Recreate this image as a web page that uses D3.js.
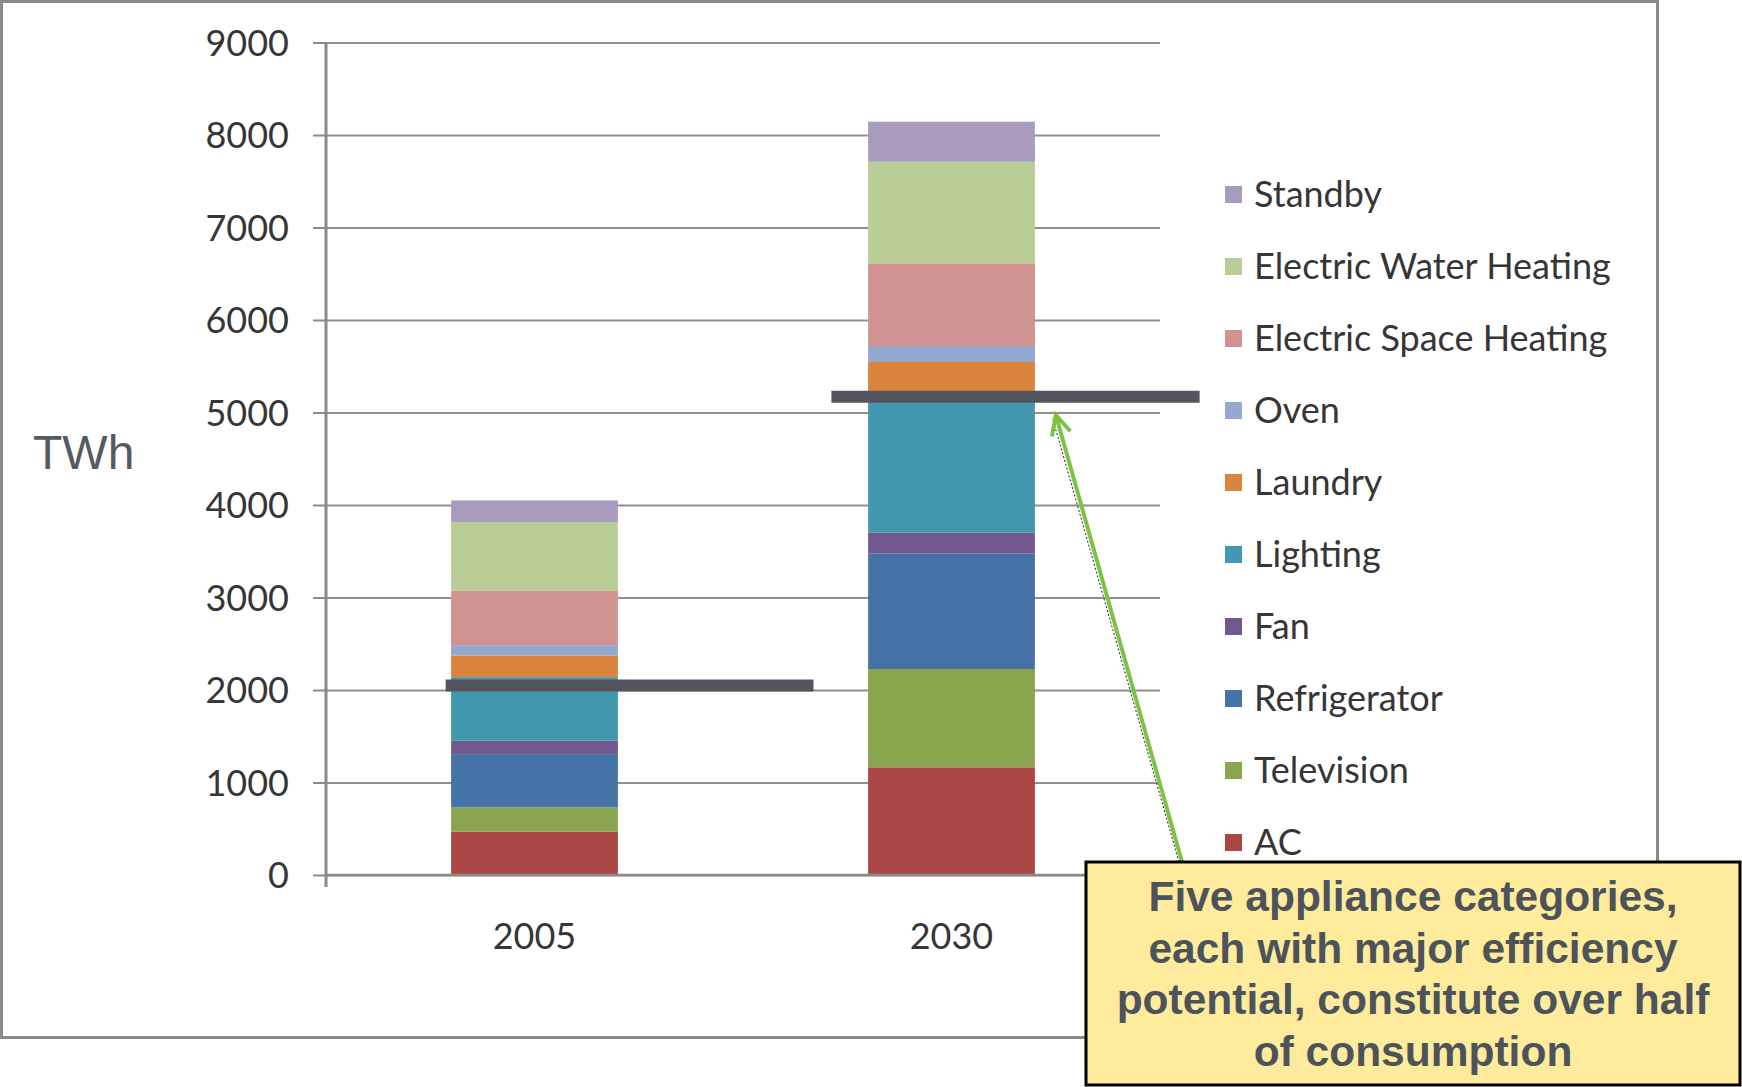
<!DOCTYPE html>
<html>
<head>
<meta charset="utf-8">
<script src="https://cdn.jsdelivr.net/npm/d3@7/dist/d3.min.js"></script>
<style>
  html, body { margin: 0; padding: 0; background: #ffffff; }
  svg { display: block; }
</style>
</head>
<body>
<svg id="chart" width="1742" height="1087"></svg>
<script>
// Residential electricity consumption by appliance, TWh
const categories = ["2005", "2030"];
const seriesNames = ["AC", "Television", "Refrigerator", "Fan", "Lighting",
  "Laundry", "Oven", "Electric Space Heating", "Electric Water Heating", "Standby"];
const seriesColors = ["#AA4643", "#89A54E", "#4572A7", "#71588F", "#4198AF",
  "#DB843D", "#93A9CF", "#D19392", "#B9CD96", "#A99BBD"];

const acValues           = [470, 1164];
const televisionValues   = [260, 1063];
const refrigeratorValues = [577, 1247];
const fanValues          = [144, 227];
const lightingValues     = [688, 1500];
const laundryValues      = [234, 345];
const ovenValues         = [112, 173];
const spaceHeatingValues = [587, 894];
const waterHeatingValues = [742, 1098];
const standbyValues      = [235, 433];

const yTickValues = [0, 1000, 2000, 3000, 4000, 5000, 6000, 7000, 8000, 9000];

// level of the five efficiency-potential categories, one marker per year
const markerLevels = [2050, 5170];

const calloutLines = [
  "Five appliance categories,",
  "each with major efficiency",
  "potential, constitute over half",
  "of consumption"
];

// ---- table for the stack layout ----
const valueColumns = [acValues, televisionValues, refrigeratorValues, fanValues,
  lightingValues, laundryValues, ovenValues, spaceHeatingValues, waterHeatingValues, standbyValues];
const table = categories.map((c, i) => {
  const row = { year: c };
  seriesNames.forEach((s, k) => { row[s] = valueColumns[k][i]; });
  return row;
});
const stacked = d3.stack().keys(seriesNames)(table);
const color = d3.scaleOrdinal().domain(seriesNames).range(seriesColors);

const svg = d3.select("#chart");
const plot = { left: 326, right: 1160, top: 42.5, bottom: 875 };

const x = d3.scaleBand().domain(categories).range([plot.left, plot.right]).padding(0);
const y = d3.scaleLinear().domain([0, 9000]).range([plot.bottom, plot.top]);
const barW = x.step() * 0.4;
const barX = c => x(c) + (x.bandwidth() - barW) / 2;

const labelFont = "Lato, 'Open Sans', sans-serif";
const labelColor = "#363636";

// outer frame
svg.append("rect")
  .attr("x", 1.5).attr("y", 1.5).attr("width", 1656).attr("height", 1036)
  .attr("fill", "#ffffff").attr("stroke", "#8a8a8a").attr("stroke-width", 3);

// gridlines
const grid = svg.append("g")
  .attr("transform", `translate(${plot.left},0)`)
  .call(d3.axisLeft(y).tickValues(yTickValues).tickSize(-(plot.right - plot.left)).tickFormat(""));
grid.select(".domain").remove();
grid.selectAll(".tick line").attr("stroke", "#8f8f8f").attr("stroke-width", 2);

// y axis ticks and labels
const yAxis = svg.append("g")
  .attr("transform", `translate(${plot.left},0)`)
  .call(d3.axisLeft(y).tickValues(yTickValues).tickSize(13).tickPadding(24).tickFormat(d3.format("d")));
yAxis.select(".domain").remove();
yAxis.selectAll(".tick line").attr("stroke", "#8a8a8a").attr("stroke-width", 2);
yAxis.selectAll(".tick text")
  .attr("font-family", labelFont)
  .attr("font-size", 36).attr("fill", labelColor).attr("dy", "0.36em");

// stacked bars
svg.append("g").selectAll("g")
  .data(stacked)
  .join("g")
  .attr("fill", d => color(d.key))
  .selectAll("rect")
  .data(d => d)
  .join("rect")
  .attr("x", d => barX(d.data.year))
  .attr("width", barW)
  .attr("y", d => y(d[1]))
  .attr("height", d => y(d[0]) - y(d[1]));

// axis lines
svg.append("line")
  .attr("x1", plot.left).attr("x2", plot.right)
  .attr("y1", y(0)).attr("y2", y(0))
  .attr("stroke", "#8a8a8a").attr("stroke-width", 2.5);
svg.append("line")
  .attr("x1", plot.left).attr("x2", plot.left)
  .attr("y1", y(9000)).attr("y2", y(0) + 12)
  .attr("stroke", "#8a8a8a").attr("stroke-width", 3);

// category labels
svg.append("g").selectAll("text")
  .data(categories)
  .join("text")
  .attr("x", d => x(d) + x.bandwidth() / 2)
  .attr("y", 949)
  .attr("text-anchor", "middle")
  .attr("font-family", labelFont)
  .attr("font-size", 36).attr("fill", labelColor)
  .text(d => d);

// y axis title
svg.append("text")
  .attr("x", 33).attr("y", 469)
  .attr("font-family", "'Liberation Sans', Arial, sans-serif")
  .attr("font-size", 48).attr("fill", "#545a61")
  .text("TWh");

// legend, top entry is the last series
const legendItems = seriesNames.slice().reverse();
const legend = svg.append("g").selectAll("g")
  .data(legendItems)
  .join("g")
  .attr("transform", (d, i) => `translate(1225,${194.5 + i * 72})`);
legend.append("rect")
  .attr("x", 0).attr("y", -8.5).attr("width", 17).attr("height", 17)
  .attr("fill", d => color(d));
legend.append("text")
  .attr("x", 29).attr("y", 0).attr("dy", "0.36em")
  .attr("font-family", labelFont)
  .attr("font-size", 36).attr("fill", labelColor)
  .text(d => d);

// horizontal markers across each bar
const markerSpan = [[-0.213, 0.669], [-0.288, 0.595]];
svg.append("g").selectAll("line")
  .data(categories)
  .join("line")
  .attr("x1", (d, i) => x(d) + x.bandwidth() / 2 + markerSpan[i][0] * x.step())
  .attr("x2", (d, i) => x(d) + x.bandwidth() / 2 + markerSpan[i][1] * x.step())
  .attr("y1", (d, i) => y(markerLevels[i]))
  .attr("y2", (d, i) => y(markerLevels[i]))
  .attr("stroke", "#53575d").attr("stroke-width", 12);

// callout box
const box = { x: 1086, y: 862, w: 654, h: 223 };
const tip = [x("2030") + 0.75 * x.step(), y(4975)];
const base = [1182, box.y];

// arrow with a dotted outline on its left
const arrow = svg.append("g");
arrow.append("line")
  .attr("x1", base[0] - 3).attr("y1", base[1])
  .attr("x2", tip[0] - 3).attr("y2", tip[1] + 4)
  .attr("stroke", "#222").attr("stroke-width", 1)
  .attr("stroke-dasharray", "2,2");
arrow.append("line")
  .attr("x1", base[0]).attr("y1", base[1])
  .attr("x2", tip[0]).attr("y2", tip[1])
  .attr("stroke", "#7DC243").attr("stroke-width", 4);
const ang = Math.atan2(base[1] - tip[1], base[0] - tip[0]);
const headLen = 22, headSpread = 0.45;
const barb = s => [tip[0] + headLen * Math.cos(ang + s * headSpread), tip[1] + headLen * Math.sin(ang + s * headSpread)];
arrow.append("path")
  .attr("d", d3.line()([barb(1), tip, barb(-1)]))
  .attr("fill", "none").attr("stroke", "#7DC243").attr("stroke-width", 4)
  .attr("stroke-linejoin", "miter");

svg.append("rect")
  .attr("x", box.x).attr("y", box.y).attr("width", box.w).attr("height", box.h)
  .attr("fill", "#FFEB9C").attr("stroke", "#000").attr("stroke-width", 3);
svg.append("g").selectAll("text")
  .data(calloutLines)
  .join("text")
  .attr("x", box.x + box.w / 2)
  .attr("y", (d, i) => 911 + i * 51.5)
  .attr("text-anchor", "middle")
  .attr("font-family", "'Liberation Sans', Arial, sans-serif")
  .attr("font-weight", "bold")
  .attr("font-size", 42.5).attr("fill", "#4d535b")
  .text(d => d);
</script>
</body>
</html>
